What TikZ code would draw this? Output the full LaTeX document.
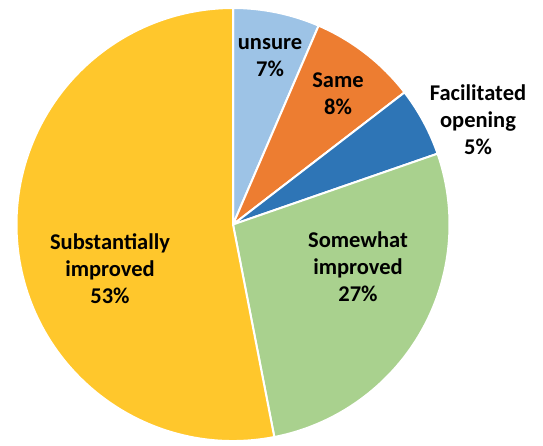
\documentclass[tikz,border=0pt]{standalone}
\usepackage{fontspec}
\setmainfont{Carlito}
\definecolor{cUnsure}{HTML}{9DC3E6}
\definecolor{cSame}{HTML}{ED7D31}
\definecolor{cFac}{HTML}{2E75B6}
\definecolor{cSome}{HTML}{A9D18E}
\definecolor{cSub}{HTML}{FFC72C}
\begin{document}
\begin{tikzpicture}[x=1pt,y=1pt,
  slice/.style={draw=white,line width=2pt,line join=round},
  lbl/.style={font=\fontsize{22.5}{27}\selectfont\bfseries,align=center,text=black,inner sep=0pt}]
\useasboundingbox (0,0) rectangle (543,445);
\coordinate (c) at (233,220.5);
\def\R{216.5}
\filldraw[slice,fill=cUnsure] (c) -- ++(90:\R) arc[start angle=90,end angle=66.7,radius=\R] -- cycle;
\filldraw[slice,fill=cSame] (c) -- ++(66.7:\R) arc[start angle=66.7,end angle=37.6,radius=\R] -- cycle;
\filldraw[slice,fill=cFac] (c) -- ++(37.6:\R) arc[start angle=37.6,end angle=19.1,radius=\R] -- cycle;
\filldraw[slice,fill=cSome] (c) -- ++(19.1:\R) arc[start angle=19.1,end angle=-79.0,radius=\R] -- cycle;
\filldraw[slice,fill=cSub] (c) -- ++(-79.0:\R) arc[start angle=-79.0,end angle=-270,radius=\R] -- cycle;
\node[lbl] (unsure) at (270,387) {unsure\\7\%};
\node[lbl] (same) at (338,351) {Same\\8\%};
\node[lbl] (fac) at (478,325) {Facilitated\\opening\\5\%};
\node[lbl] (some) at (358,178) {Somewhat\\improved\\27\%};
\node[lbl] (sub) at (110,176) {Substantially\\improved\\53\%};
\end{tikzpicture}
\end{document}
